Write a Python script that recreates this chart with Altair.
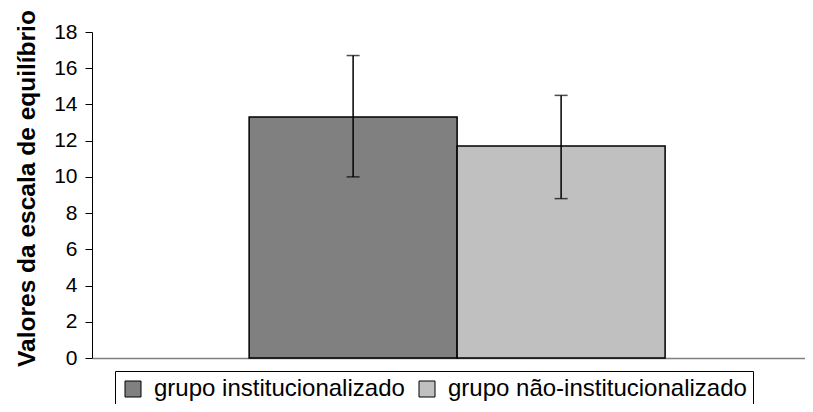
import altair as alt
import pandas as pd

groups = ["grupo institucionalizado", "grupo não-institucionalizado"]
means = [13.3, 11.7]
err_low = [10.0, 8.8]
err_high = [16.7, 14.5]
colors = ["#808080", "#c0c0c0"]
y_ticks = [0, 2, 4, 6, 8, 10, 12, 14, 16, 18]

df = pd.DataFrame({"grupo": groups, "valor": means, "lo": err_low, "hi": err_high})

FONT = "Liberation Sans"

x_scale = alt.Scale(paddingInner=0, paddingOuter=0.714, align=0.529)
x_axis = alt.Axis(
    title=None, labels=False, ticks=False,
    domainColor="#808080", domainWidth=1.5,
)

y_scale = alt.Scale(domain=[0, 18], nice=False)
y_axis = alt.Axis(
    title="Valores da escala de equilíbrio",
    values=y_ticks,
    grid=False,
    labelOverlap=False,
    domainColor="black",
    domainWidth=1,
    tickColor="black",
    tickSize=7,
    labelPadding=8,
    labelFont=FONT,
    labelFontSize=21,
    labelColor="black",
    titleFont=FONT,
    titleFontSize=24.5,
    titleFontWeight="bold",
    titleColor="black",
    titleX=-65,
    titleY=156,
    titleBaseline="middle",
    titleAlign="center",
)


def xenc():
    return alt.X("grupo:N", sort=groups, scale=x_scale, axis=x_axis)


def yenc(field):
    return alt.Y(field, scale=y_scale, axis=y_axis)


bars = alt.Chart(df).mark_bar(stroke="black", strokeWidth=1.5).encode(
    x=xenc(),
    y=yenc("valor:Q"),
    color=alt.Color(
        "grupo:N",
        sort=groups,
        scale=alt.Scale(domain=groups, range=colors),
        legend=alt.Legend(
            title=None,
            orient="none",
            legendX=23,
            legendY=339,
            direction="horizontal",
            symbolType="square",
            symbolSize=256,
            symbolStrokeColor="black",
            symbolStrokeWidth=1,
            symbolOpacity=1,
            labelFont=FONT,
            labelFontSize=24,
            labelColor="black",
            labelLimit=600,
            labelOffset=9,
            columnPadding=10,
            padding=6,
            strokeColor="black",
            fillColor="white",
            cornerRadius=0,
        ),
    ),
)

rules = alt.Chart(df).mark_rule(color="black", strokeWidth=1.5).encode(
    x=xenc(),
    y=yenc("lo:Q"),
    y2="hi:Q",
)

caps_lo = alt.Chart(df).mark_tick(color="black", thickness=1.5, size=13).encode(
    x=xenc(),
    y=yenc("lo:Q"),
)
caps_hi = alt.Chart(df).mark_tick(color="black", thickness=1.5, size=13).encode(
    x=xenc(),
    y=yenc("hi:Q"),
)

chart = alt.layer(bars, rules, caps_lo, caps_hi).properties(
    width=713,
    height=326,
    padding={"left": 84, "top": 24, "right": 0, "bottom": 46},
    autosize=alt.AutoSizeParams(type="none"),
    background="white",
).configure_view(stroke=None)

chart.save("out.html", embed_options={"renderer": "svg", "actions": False})
